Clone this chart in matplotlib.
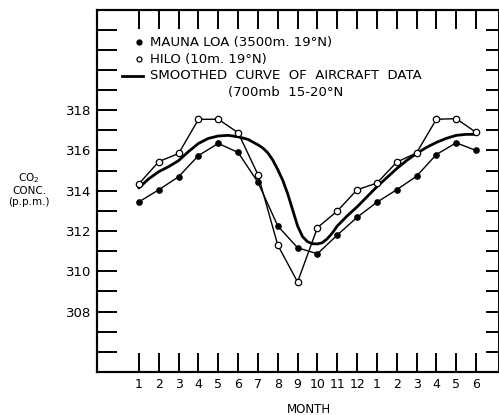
import matplotlib
matplotlib.use("Agg")
import matplotlib.pyplot as plt

# monthly means, Jan of year 1 through Jun of year 2
months = list(range(1, 19))
month_labels = ['1', '2', '3', '4', '5', '6', '7', '8', '9', '10', '11', '12',
                '1', '2', '3', '4', '5', '6']

mauna_loa = [313.45, 314.05, 314.70, 315.75, 316.35, 315.90, 314.42, 312.25, 311.17,
             310.87, 311.80, 312.68, 313.43, 314.05, 314.72, 315.80, 316.38, 316.00]
hilo = [314.35, 315.45, 315.85, 317.55, 317.55, 316.88, 314.80, 311.30, 309.47,
        312.17, 312.99, 314.05, 314.38, 315.42, 315.88, 317.55, 317.58, 316.90]

# smoothed aircraft curve (closer steps where it bends)
smooth_x = [1, 1.5, 2, 2.5, 3, 3.5, 4, 4.5, 5, 5.5, 6, 6.5, 7, 7.25, 7.5, 7.75, 8,
            8.25, 8.5, 8.75, 9, 9.25, 9.5, 9.75, 10, 10.25, 10.5, 10.75, 11, 11.5,
            12, 12.5, 13, 13.5, 14, 14.5, 15, 15.5, 16, 16.5, 17, 17.5, 18]
smooth_y = [314.15, 314.60, 314.95, 315.20, 315.50, 315.95, 316.35, 316.60, 316.72,
            316.75, 316.68, 316.55, 316.28, 316.12, 315.88, 315.52, 315.05, 314.52,
            313.85, 313.05, 312.25, 311.72, 311.47, 311.37, 311.36, 311.42, 311.62,
            311.90, 312.25, 312.75, 313.20, 313.70, 314.20, 314.65, 315.10, 315.50,
            315.85, 316.15, 316.40, 316.60, 316.75, 316.80, 316.80]

y_ticks = list(range(306, 323))
y_labels = [str(v) if (308 <= v <= 318 and v % 2 == 0) else '' for v in y_ticks]

plt.rcParams['font.family'] = ['DejaVu Sans']

fig = plt.figure(figsize=(4.99, 4.15), dpi=100)
ax = fig.add_axes([0.1944, 0.1036, 0.8036, 0.8735])

ax.plot(smooth_x, smooth_y, color='black', lw=2.0, zorder=2,
        solid_joinstyle='round')
ax.plot(months, mauna_loa, color='black', lw=1.0, marker='o', ms=3.8,
        mfc='black', mec='black', zorder=3)
ax.plot(months, hilo, color='black', lw=1.0, marker='o', ms=4.6,
        mfc='white', mec='black', mew=0.9, zorder=4)

ax.set_xlim(-1.12, 19.11)
ax.set_ylim(305, 323)
ax.set_xticks(months)
ax.set_xticklabels(month_labels)
ax.set_yticks(y_ticks)
ax.set_yticklabels(y_labels)

ax.tick_params(axis='x', direction='in', length=14, width=1.4, top=True,
               labelsize=9, pad=4)
ax.tick_params(axis='y', direction='in', length=14.4, width=1.4,
               labelsize=9.5, pad=4)

ax2 = ax.twinx()
ax2.set_ylim(305, 323)
ax2.set_yticks(y_ticks)
ax2.tick_params(axis='y', direction='in', length=9, width=1.4, labelright=False)

for a in (ax, ax2):
    for s in a.spines.values():
        s.set_linewidth(1.5)
    a.spines['right'].set_linewidth(0.6)

# legend drawn by hand
ax.plot([0.1047], [0.910], transform=ax.transAxes, marker='o', ms=3.5,
        color='black', clip_on=False)
ax.plot([0.1047], [0.8634], transform=ax.transAxes, marker='o', ms=3.6,
        mfc='white', mec='black', mew=0.9, clip_on=False)
ax.plot([0.0623, 0.1147], [0.8166, 0.8166], transform=ax.transAxes,
        color='black', lw=2.0, clip_on=False)
ax.text(0.1322, 0.910, 'MAUNA LOA (3500m. 19°N)', transform=ax.transAxes,
        fontsize=9.5, va='center', ha='left')
ax.text(0.1322, 0.8634, 'HILO (10m. 19°N)', transform=ax.transAxes,
        fontsize=9.5, va='center', ha='left')
ax.text(0.1322, 0.8166, 'SMOOTHED  CURVE  OF  AIRCRAFT  DATA', transform=ax.transAxes,
        fontsize=9.5, va='center', ha='left')
ax.text(0.3267, 0.7724, '(700mb  15-20°N', transform=ax.transAxes,
        fontsize=9.5, va='center', ha='left')

fig.text(29 / 499, 1 - 189 / 415, 'CO$_2$\nCONC.\n(p.p.m.)', fontsize=7.5,
         ha='center', va='center', linespacing=1.15)
fig.text(309 / 499, 1 - 409 / 415, 'MONTH', fontsize=8.5, ha='center', va='center')

fig.savefig('out.png', dpi=100)
